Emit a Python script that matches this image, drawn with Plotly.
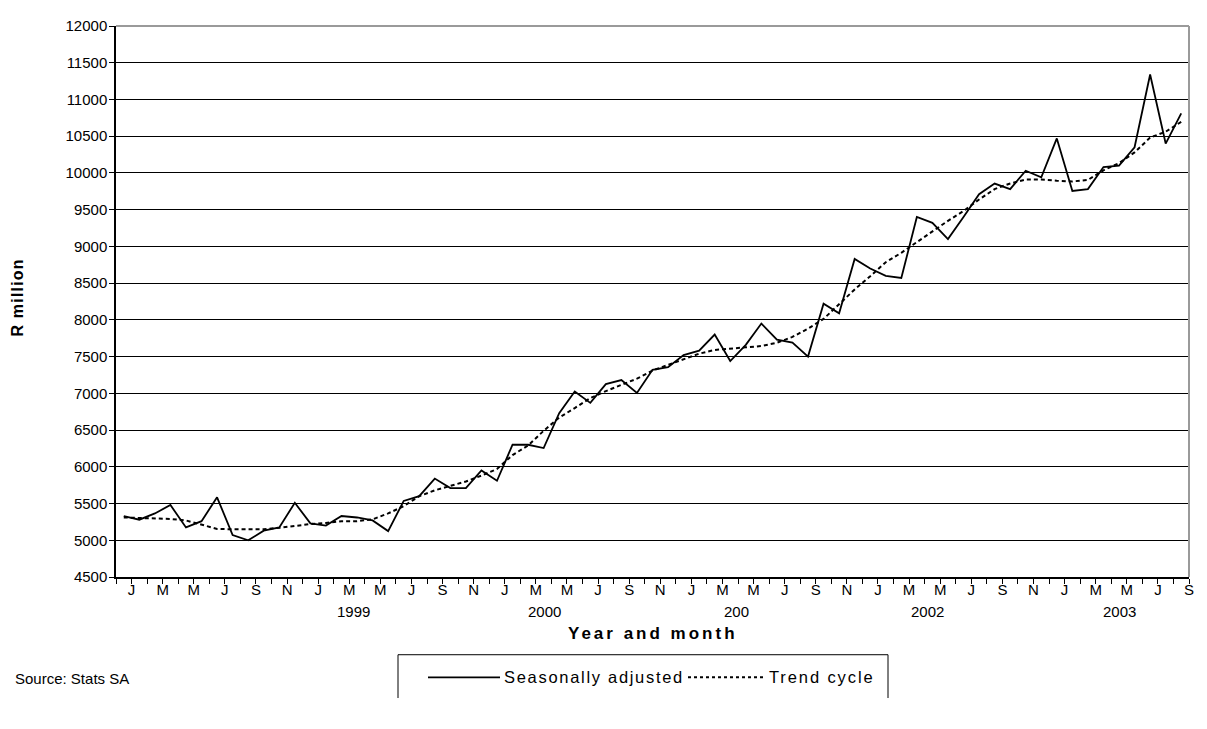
import plotly.graph_objects as go

# ---------------- data ----------------
months = [f"{y}-{m:02d}" for y in range(1998, 2004) for m in range(1, 13)][:69]

seasonally_adjusted = [
    5330, 5280, 5365, 5480, 5175, 5260, 5585, 5070, 5000, 5130, 5175, 5510,
    5230, 5200, 5330, 5310, 5270, 5125, 5535, 5600, 5840, 5710, 5710, 5950,
    5810, 6300, 6300, 6255, 6730, 7025, 6870, 7125, 7180, 7005, 7320, 7355,
    7520, 7580, 7800, 7440, 7660, 7950, 7730, 7690, 7500, 8220, 8090, 8830,
    8700, 8600, 8570, 9400, 9320, 9100, 9400, 9710, 9855, 9780, 10030, 9940,
    10470, 9755, 9780, 10080, 10100, 10350, 11340, 10400, 10810,
]

trend_cycle = [
    5310, 5305, 5300, 5290, 5270, 5210, 5155, 5150, 5145, 5150, 5170, 5200,
    5220, 5235, 5260, 5260, 5285, 5365, 5465, 5600, 5680, 5740, 5800, 5880,
    5970, 6160, 6290, 6490, 6670, 6800, 6935, 7030, 7120, 7200, 7310, 7385,
    7465, 7540, 7590, 7612, 7626, 7644, 7688, 7768, 7880, 8013, 8214, 8414,
    8594, 8785, 8913, 9060, 9203, 9348, 9482, 9638, 9780, 9857, 9911, 9911,
    9893, 9884, 9905, 10036, 10134, 10280, 10481, 10561, 10695,
]

month_tick_text = [
    "J", "M", "M", "J", "S", "N", "J", "M", "M", "J", "S", "N",
    "J", "M", "M", "J", "S", "N", "J", "M", "M", "J", "S", "N",
    "J", "M", "M", "J", "S", "N", "J", "M", "M", "J", "S",
]
year_labels = ["1999", "2000", "200", "2002", "2003"]
year_label_pos = [14.75, 27.05, 39.4, 51.7, 64.0]

series_names = ["Seasonally adjusted", "Trend cycle"]

# ---------------- figure ----------------
OFF = 8                      # default body margin of the html page
W, H = 1207 - OFF, 729 - OFF
L, T = 116 - OFF, 17 - OFF
R = W - (1189 - OFF)
B = H - (577 - OFF)
PW, PH = W - L - R, H - T - B
FONT = "Arial, Liberation Sans, sans-serif"
FS = 15
TREND_DASH = "4px,3px"


def X(px):
    """page pixel x -> paper fraction"""
    return (px - OFF - L) / PW


def Y(py):
    """page pixel y -> paper fraction"""
    return (H - B - (py - OFF)) / PH


def spaced(txt, ls):
    return f'<span style="letter-spacing:{ls}px">{txt}</span>'


x_idx = list(range(len(months)))

fig = go.Figure()
fig.add_trace(go.Scatter(
    x=x_idx, y=seasonally_adjusted, mode="lines", name=series_names[0],
    line=dict(color="black", width=1.8), text=months, showlegend=False,
))
fig.add_trace(go.Scatter(
    x=x_idx, y=trend_cycle, mode="lines", name=series_names[1],
    line=dict(color="black", width=2, dash=TREND_DASH), text=months, showlegend=False,
))

n = len(months)
fig.update_xaxes(
    range=[-0.5, n - 0.5],
    tickvals=[0.5 + 2 * i for i in range(len(month_tick_text))],
    ticktext=month_tick_text,
    ticks="outside", ticklen=5, tickcolor="black", tickwidth=1,
    ticklabelstandoff=-7,
    minor=dict(tickvals=[i - 0.5 for i in range(n + 1)], ticks="outside",
               ticklen=5, tickcolor="black", tickwidth=1, showgrid=False),
    showline=True, linecolor="black", linewidth=1.5,
    showgrid=False, zeroline=False,
    tickfont=dict(family=FONT, size=FS, color="black"),
)
fig.update_yaxes(
    range=[4500, 12000], tick0=4500, dtick=500, tickformat="d",
    ticks="outside", ticklen=5, tickcolor="black",
    ticklabelstandoff=-1,
    showline=True, linecolor="black", linewidth=1.5,
    showgrid=True, gridcolor="black", gridwidth=1, zeroline=False,
    tickfont=dict(family=FONT, size=FS, color="black"),
)

shapes = [
    # plot-area border (top / right, gray)
    dict(type="line", xref="paper", yref="paper", x0=0, x1=1, y0=1, y1=1,
         line=dict(color="#9a9a9a", width=2), layer="above"),
    dict(type="line", xref="paper", yref="paper", x0=1, x1=1, y0=0, y1=1,
         line=dict(color="#9a9a9a", width=2), layer="above"),
    # legend box (top and sides)
    dict(type="line", xref="paper", yref="paper", x0=X(398), x1=X(888), y0=Y(656), y1=Y(656),
         line=dict(color="black", width=1)),
    dict(type="line", xref="paper", yref="paper", x0=X(398), x1=X(398), y0=Y(656), y1=Y(700),
         line=dict(color="black", width=1)),
    dict(type="line", xref="paper", yref="paper", x0=X(888), x1=X(888), y0=Y(656), y1=Y(700),
         line=dict(color="black", width=1)),
    # legend samples
    dict(type="line", xref="paper", yref="paper", x0=X(428), x1=X(500), y0=Y(679), y1=Y(679),
         line=dict(color="black", width=1.8)),
    dict(type="line", xref="paper", yref="paper", x0=X(688), x1=X(765), y0=Y(679), y1=Y(679),
         line=dict(color="black", width=2, dash="dot")),
]

annotations = []
for lab, pos in zip(year_labels, year_label_pos):
    annotations.append(dict(x=pos, xref="x", y=Y(612), yref="paper", text=lab,
                            showarrow=False, xanchor="center", yanchor="middle",
                            font=dict(family=FONT, size=FS, color="black")))
annotations += [
    dict(x=X(653), xref="paper", y=Y(634), yref="paper",
         text="<b>" + spaced("Year and month", 3) + "</b>",
         showarrow=False, xanchor="center", yanchor="middle",
         font=dict(family=FONT, size=17, color="black")),
    dict(x=X(18), xref="paper", y=Y(293), yref="paper",
         text="<b>" + spaced("R million", 1.2) + "</b>",
         textangle=-90, showarrow=False, xanchor="center", yanchor="middle",
         font=dict(family=FONT, size=16, color="black")),
    dict(x=X(13), xref="paper", y=Y(680), yref="paper", text="Source: Stats SA",
         showarrow=False, xanchor="left", yanchor="middle",
         font=dict(family=FONT, size=FS, color="black")),
    dict(x=X(502), xref="paper", y=Y(679), yref="paper", text=spaced(series_names[0], 1.7),
         showarrow=False, xanchor="left", yanchor="middle",
         font=dict(family=FONT, size=16.5, color="black")),
    dict(x=X(767), xref="paper", y=Y(679), yref="paper", text=spaced(series_names[1], 1.9),
         showarrow=False, xanchor="left", yanchor="middle",
         font=dict(family=FONT, size=16.5, color="black")),
]

fig.update_layout(
    width=W, height=H,
    margin=dict(l=L, r=R, t=T, b=B, pad=0),
    paper_bgcolor="white", plot_bgcolor="white",
    shapes=shapes, annotations=annotations,
    showlegend=False,
    font=dict(family=FONT, size=FS, color="black"),
)

fig.write_html("out.html")
